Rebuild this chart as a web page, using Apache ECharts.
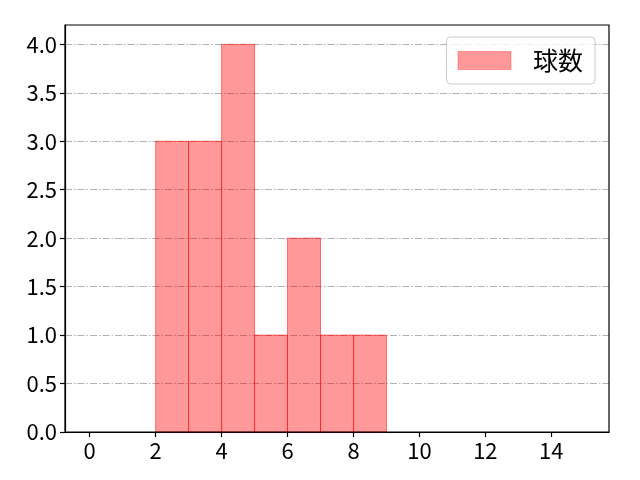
<!DOCTYPE html>
<html><head><meta charset="utf-8">
<script src="https://cdn.jsdelivr.net/npm/echarts@6/dist/echarts.min.js"></script>
<style>html,body{margin:0;padding:0;background:#fff}#c{width:640px;height:480px}</style>
</head><body><div id="c"></div>
<script>
const binStarts = [2, 3, 4, 5, 6, 7, 8];
const binEnds   = [3, 4, 5, 6, 7, 8, 9];
const counts    = [3, 3, 4, 1, 2, 1, 1];
const xTicks = [0, 2, 4, 6, 8, 10, 12, 14];
const yTicks = [0, 0.5, 1.0, 1.5, 2.0, 2.5, 3.0, 3.5, 4.0];
const seriesName = '球数';

const data = binStarts.map((s, i) => [s, binEnds[i], counts[i]]);
const FONT = '"Noto Sans CJK JP", "Noto Sans", sans-serif';
const chart = echarts.init(document.getElementById('c'), null, {renderer: 'canvas'});
chart.setOption({
  animation: false,
  grid: {left: 65, right: 31, top: 25, bottom: 48, show: true, borderColor: '#000', borderWidth: 1.2, z: 10},
  legend: {
    right: 45, top: 37, orient: 'vertical',
    itemWidth: 53, itemHeight: 18,
    padding: [11, 12, 11, 11],
    borderColor: '#cccccc', borderWidth: 1, borderRadius: 4,
    backgroundColor: 'rgba(255,255,255,0.8)',
    textStyle: {fontFamily: FONT, fontSize: 25, color: '#000', padding: [0, 0, 0, 17]},
    data: [{name: seriesName, icon: 'rect', itemStyle: {color: 'rgba(255,0,0,0.4)', borderColor: 'rgba(255,0,0,0.3)', borderWidth: 1}}]
  },
  xAxis: {
    type: 'value', min: -0.75, max: 15.75,
    axisLine: {show: true, onZero: false, lineStyle: {color: '#000', width: 1.2}},
    axisTick: {show: true, length: 5, customValues: xTicks, lineStyle: {color: '#000', width: 1.2}},
    axisLabel: {customValues: xTicks, fontFamily: FONT, fontSize: 22, color: '#000', margin: 8},
    splitLine: {show: false}
  },
  yAxis: {
    type: 'value', min: 0, max: 4.2,
    axisLine: {show: true, onZero: false, lineStyle: {color: '#000', width: 1.2}},
    axisTick: {show: true, length: 5, customValues: yTicks, lineStyle: {color: '#000', width: 1.2}},
    axisLabel: {customValues: yTicks, fontFamily: FONT, fontSize: 22, color: '#000', margin: 8,
      formatter: v => v.toFixed(1)},
    splitLine: {show: true, lineStyle: {color: '#b0b0b0', width: 1, type: [7, 2, 1.5, 2]}}
  },
  series: [{
    name: seriesName, type: 'custom',
    encode: {x: [0, 1], y: 2},
    renderItem: function (params, api) {
      const p0 = api.coord([api.value(0), 0]);
      const p1 = api.coord([api.value(1), api.value(2)]);
      return {
        type: 'rect',
        shape: {x: p0[0], y: p1[1], width: p1[0] - p0[0], height: p0[1] - p1[1]},
        style: {fill: 'rgba(255,0,0,0.4)', stroke: 'rgba(255,0,0,0.5)', lineWidth: 1}
      };
    },
    itemStyle: {color: 'rgba(255,0,0,0.4)'},
    data: data
  }]
});
</script></body></html>
